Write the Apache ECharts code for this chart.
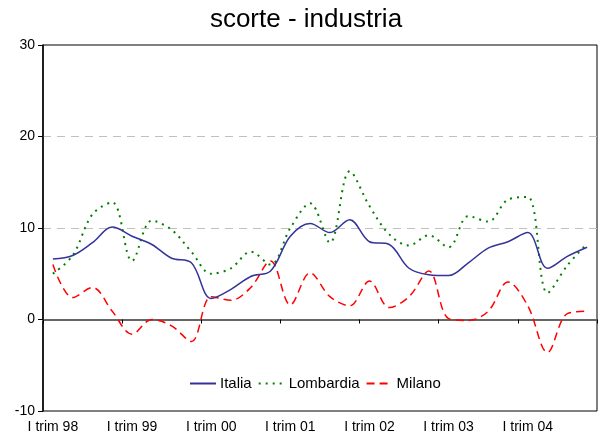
<!DOCTYPE html>
<html>
<head>
<meta charset="utf-8">
<script src="https://cdn.jsdelivr.net/npm/echarts@6/dist/echarts.min.js"></script>
<style>html,body{margin:0;padding:0;background:#fff;}#c{width:598px;height:439px;}</style>
</head>
<body>
<div id="c"></div>
<script>
var years = ['98','99','00','01','02','03','04'];
var quarters = ['I','II','III','IV'];
var categories = [];
years.forEach(function(y){ quarters.forEach(function(q){ categories.push(q + ' trim ' + y); }); });

var italia = [6.6, 7.0, 8.4, 10.1, 9.1, 8.2, 6.7, 6.2, 2.3, 3.3, 4.7, 5.3, 9.1, 10.5, 9.5, 10.9, 8.5, 8.2, 5.6, 4.9, 4.8, 6.2, 7.8, 8.5, 9.5, 5.6, 6.9, 7.9];
var lombardia = [5.0, 7.0, 11.5, 12.8, 6.4, 10.8, 9.8, 7.4, 5.0, 5.6, 7.4, 6.0, 10.0, 12.7, 8.4, 16.2, 12.4, 9.3, 8.1, 9.2, 7.9, 11.3, 10.7, 13.1, 13.4, 2.9, 5.9, 8.3];
var milano = [6.0, 2.4, 3.5, 0.9, -1.6, 0.0, -0.7, -2.4, 2.5, 2.1, 3.5, 6.4, 1.6, 5.1, 2.5, 1.5, 4.2, 1.3, 2.5, 5.3, 0.1, -0.1, 0.9, 4.1, 1.5, -3.6, 0.65, 0.9];
var yTicks = {min: -10, max: 30, interval: 10};

var font = 'Liberation Sans, Arial, sans-serif';
var chart = echarts.init(document.getElementById('c'), null, {renderer: 'canvas'});
chart.setOption({
  animation: false,
  backgroundColor: '#fff',
  textStyle: {fontFamily: font},
  title: {
    text: 'scorte - industria',
    left: 301, top: 2, textAlign: 'center',
    textStyle: {fontSize: 26, fontWeight: 'normal', color: '#000', fontFamily: font}
  },
  legend: {
    orient: 'horizontal',
    left: 184, top: 371,
    itemWidth: 26, itemHeight: 12, itemGap: 6,
    itemStyle: {opacity: 0, borderWidth: 0},
    textStyle: {fontSize: 15, color: '#000', fontFamily: font, padding: [0, 0, 0, -1]},
    data: ['Italia', 'Lombardia', 'Milano']
  },
  grid: {left: 43, right: 1, top: 45, bottom: 28, show: true, borderColor: '#000', borderWidth: 1, containLabel: false},
  xAxis: [
    {
      type: 'category', data: categories, position: 'bottom', boundaryGap: true,
      axisLine: {show: false, onZero: false},
      axisTick: {show: false},
      splitLine: {show: false},
      axisLabel: {interval: 3, color: '#000', fontSize: 14, fontFamily: font, margin: 9}
    },
    {
      type: 'category', data: categories, position: 'bottom', boundaryGap: true,
      axisLine: {show: true, onZero: true, lineStyle: {color: '#666', width: 2}},
      axisTick: {show: true, interval: 3, length: 4, lineStyle: {color: '#000', width: 1}},
      axisLabel: {show: false},
      splitLine: {show: false}
    }
  ],
  yAxis: {
    type: 'value', min: yTicks.min, max: yTicks.max, interval: yTicks.interval,
    axisLine: {show: true, onZero: false, lineStyle: {color: '#000', width: 1.5}},
    axisTick: {show: true, length: 5, lineStyle: {color: '#000'}},
    axisLabel: {color: '#000', fontSize: 14, fontFamily: font, margin: 8},
    splitLine: {show: true, showMinLine: false, showMaxLine: false, lineStyle: {color: '#c0c0c0', type: [8, 6], width: 1}}
  },
  series: [
    {name: 'Italia', type: 'line', xAxisIndex: 0, data: italia, smooth: 0.35, symbol: 'none',
     lineStyle: {color: '#333399', width: 1.5, type: 'solid'}, itemStyle: {color: '#333399'}, z: 4},
    {name: 'Lombardia', type: 'line', xAxisIndex: 0, data: lombardia, smooth: 0.35, symbol: 'none',
     lineStyle: {color: '#008000', width: 2, type: [2, 5]}, itemStyle: {color: '#008000'}, z: 3},
    {name: 'Milano', type: 'line', xAxisIndex: 0, data: milano, smooth: 0.35, symbol: 'none',
     lineStyle: {color: '#ff0000', width: 1.5, type: [8, 5]}, itemStyle: {color: '#ff0000'}, z: 2}
  ]
});
</script>
</body>
</html>
